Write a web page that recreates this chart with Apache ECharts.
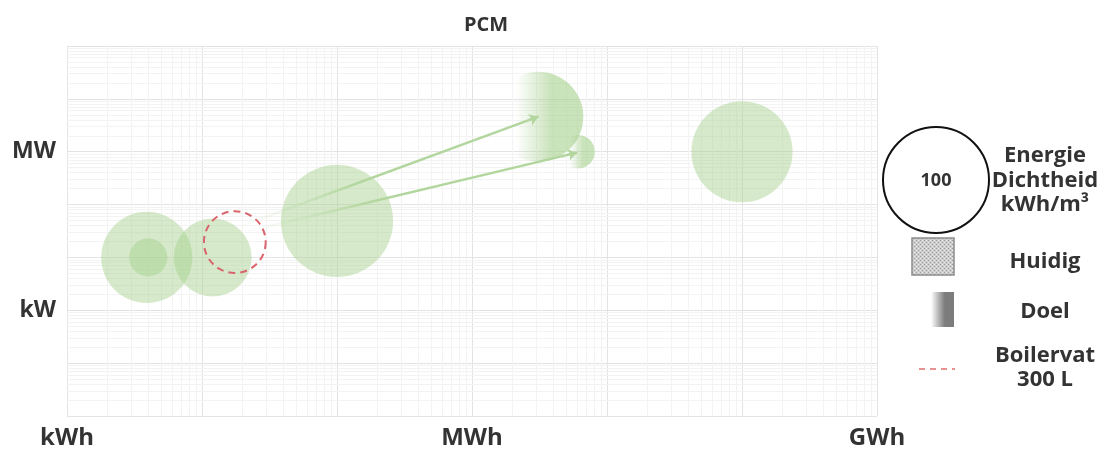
<!DOCTYPE html>
<html><head><meta charset="utf-8">
<script src="https://cdn.jsdelivr.net/npm/echarts@6/dist/echarts.min.js"></script>
<style>html,body{margin:0;padding:0;background:#fff}#c{width:1107px;height:450px}</style>
</head><body><div id="c"></div><script>
// ---- data ----
const xTickLabels = {1: 'kWh', 1000: 'MWh', 1000000: 'GWh'};
const yTickLabels = {1: 'kW', 1000: 'MW'};
// Huidig (current): energy [kWh], power [kW], energy density [kWh/m3]
const huidigEnergy = [3.9, 4.0, 12, 100, 100000];
const huidigPower = [10, 10, 10, 49, 1000];
const huidigDensity = [74, 13, 54, 112, 91];
// Doel (target)
const doelEnergy = [3100, 6100];
const doelPower = [4600, 1000];
const doelDensity = [72, 10];
// Boilervat 300 L
const boilerEnergy = [17.5];
const boilerPower = [19.5];
const boilerDensity = [34];
// arrows
const arrowFromEnergy = [19, 20];
const arrowFromPower = [38.5, 29.6];
const arrowToEnergy = [3100, 6000];
const arrowToPower = [4600, 960];
const legendDensity = 100;

// ---- chart ----
const FONT = "'Open Sans', 'Noto Sans', sans-serif";
const SIZE100 = 106;
const sz = d => SIZE100 * Math.sqrt(d / 100);

const xMinor = [], yMinor = [];
for (let k = 0; k < 6; k++) for (let m = 2; m <= 9; m++) xMinor.push(m * Math.pow(10, k));
for (let k = -2; k < 5; k++) for (let m = 2; m <= 9; m++) yMinor.push(+(m * Math.pow(10, k)).toPrecision(3));

const green = 'rgba(165,208,140,0.45)';
const doelGrad = new echarts.graphic.LinearGradient(0, 0, 1, 0, [
  {offset: 0, color: 'rgba(165,208,140,0)'},
  {offset: 0.25, color: 'rgba(165,208,140,0)'},
  {offset: 0.65, color: 'rgba(165,208,140,0.6)'},
  {offset: 1, color: 'rgba(165,208,140,0.6)'}
]);
const AC = '178,214,158';
const arrowGrad = new echarts.graphic.LinearGradient(0, 0, 1, 0, [
  {offset: 0, color: 'rgba(' + AC + ',0)'},
  {offset: 0.2, color: 'rgba(' + AC + ',0.25)'},
  {offset: 0.4, color: 'rgba(' + AC + ',1)'},
  {offset: 1, color: 'rgba(' + AC + ',1)'}
]);

const arrowLines = arrowFromEnergy.map((e, i) => ({coords: [[e, arrowFromPower[i]], [arrowToEnergy[i], arrowToPower[i]]]}));
const lerpLog = (a, b, t) => Math.pow(10, Math.log10(a) + (Math.log10(b) - Math.log10(a)) * t);
const arrowHeads = arrowFromEnergy.map((e, i) => ({coords: [
  [lerpLog(e, arrowToEnergy[i], 0.97), lerpLog(arrowFromPower[i], arrowToPower[i], 0.97)],
  [arrowToEnergy[i], arrowToPower[i]]]}));

// pattern for Huidig legend
const pc = document.createElement('canvas'); pc.width = 4; pc.height = 4;
const px = pc.getContext('2d');
px.fillStyle = '#cdcdcd'; px.fillRect(0, 0, 4, 4);
px.fillStyle = '#9c9c9c'; px.fillRect(0, 0, 1, 1); px.fillRect(2, 2, 1, 1);
px.fillStyle = '#ececec'; px.fillRect(2, 0, 1, 1); px.fillRect(0, 2, 1, 1);

const txt = (x, y, s, size) => ({type: 'text', x: x, y: y, style: {text: s, font: 'bold ' + size + 'px ' + FONT, fill: '#333', align: 'center', verticalAlign: 'middle'}});

const chart = echarts.init(document.getElementById('c'), null, {renderer: 'canvas'});
chart.setOption({
  animation: false,
  title: {text: 'PCM', left: 481, top: 10, textAlign: 'center', textStyle: {fontFamily: FONT, fontWeight: 'bold', fontSize: 20, color: '#333'}},
  grid: {left: 67, right: 230, top: 46, bottom: 33},
  xAxis: {
    type: 'log', logBase: 10, min: 1, max: 1000000,
    axisLine: {show: false}, axisTick: {show: false},
    axisLabel: {fontFamily: FONT, fontWeight: 'bold', fontSize: 24, color: '#333', margin: 10,
      formatter: v => xTickLabels[Math.round(v)] || ''},
    splitLine: {show: true, lineStyle: {color: '#e3e3e3', width: 1}}
  },
  yAxis: {
    type: 'log', logBase: 10, min: 0.01, max: 100000,
    axisLine: {show: false}, axisTick: {show: false},
    axisLabel: {fontFamily: FONT, fontWeight: 'bold', fontSize: 23, color: '#333', margin: 11,
      formatter: v => yTickLabels[Math.round(v * 1000) / 1000] || ''},
    splitLine: {show: true, lineStyle: {color: '#e3e3e3', width: 1}}
  },
  series: [
    {
      type: 'scatter', data: [], silent: true, z: 0,
      markLine: {
        silent: true, symbol: 'none', label: {show: false}, animation: false, z: 0,
        lineStyle: {color: '#f3f3f3', width: 1, type: 'solid'},
        data: xMinor.map(v => ({xAxis: v})).concat(yMinor.map(v => ({yAxis: v})))
      }
    },
    {
      type: 'scatter', z: 2, silent: true,
      data: huidigEnergy.map((e, i) => [e, huidigPower[i], huidigDensity[i]]),
      symbolSize: d => sz(d[2]),
      itemStyle: {color: green, opacity: 1}
    },
    {
      type: 'scatter', z: 2, silent: true,
      data: doelEnergy.map((e, i) => [e, doelPower[i], doelDensity[i]]),
      symbolSize: d => sz(d[2]),
      itemStyle: {color: doelGrad, opacity: 1}
    },
    {
      type: 'lines', coordinateSystem: 'cartesian2d', z: 3, silent: true,
      symbol: 'none', lineStyle: {color: arrowGrad, width: 2.5, opacity: 1},
      data: arrowLines
    },
    {
      type: 'lines', coordinateSystem: 'cartesian2d', z: 3, silent: true,
      symbol: ['none', 'arrow'], symbolSize: 9,
      lineStyle: {color: 'rgb(' + AC + ')', width: 2.5, opacity: 1},
      data: arrowHeads
    },
    {
      type: 'scatter', z: 4, silent: true,
      data: boilerEnergy.map((e, i) => [e, boilerPower[i], boilerDensity[i]]),
      symbolSize: d => sz(d[2]),
      itemStyle: {color: 'rgba(0,0,0,0)', borderColor: '#d9646c', borderWidth: 2, borderType: [7, 5], opacity: 1}
    }
  ],
  graphic: [
    {type: 'circle', shape: {cx: 936, cy: 180, r: SIZE100 / 2 * Math.sqrt(legendDensity / 100)}, style: {fill: '#fff', stroke: '#111', lineWidth: 2}},
    txt(936, 181, String(legendDensity), 18),
    txt(1045, 156, 'Energie', 22),
    txt(1045, 181, 'Dichtheid', 22),
    txt(1045, 205, 'kWh/m³', 22),
    {type: 'rect', shape: {x: 912, y: 238, width: 42, height: 37}, style: {fill: {image: pc, repeat: 'repeat'}, stroke: '#8c8c8c', lineWidth: 1.5}},
    txt(1045, 262, 'Huidig', 22),
    {type: 'rect', shape: {x: 931, y: 292, width: 23, height: 35}, style: {fill: new echarts.graphic.LinearGradient(0, 0, 1, 0, [
      {offset: 0, color: 'rgba(120,120,120,0)'}, {offset: 0.6, color: '#7c7c7c'}, {offset: 1, color: '#7c7c7c'}])}},
    txt(1045, 312, 'Doel', 22),
    {type: 'line', shape: {x1: 919, y1: 369, x2: 955, y2: 369}, style: {stroke: '#e07070', lineWidth: 1.5, lineDash: [6, 5]}},
    txt(1045, 356, 'Boilervat', 22),
    txt(1045, 380, '300 L', 22)
  ]
});
</script></body></html>
